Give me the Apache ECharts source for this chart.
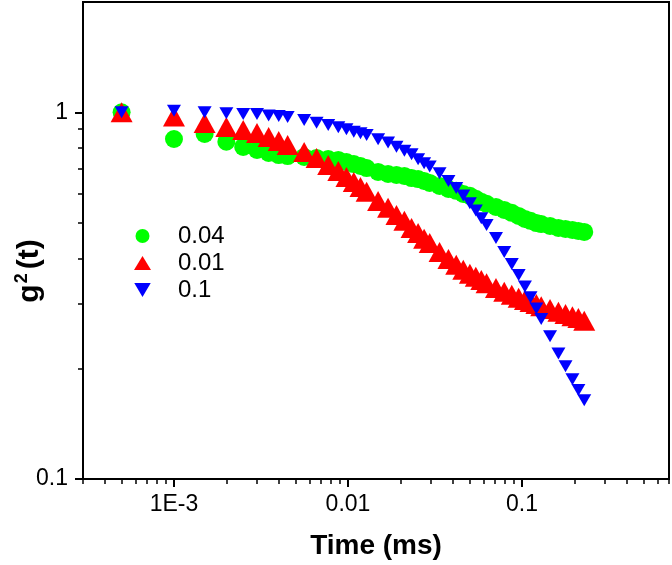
<!DOCTYPE html>
<html>
<head>
<meta charset="utf-8">
<script src="https://cdn.jsdelivr.net/npm/echarts@6/dist/echarts.min.js"></script>
<style>html,body{margin:0;padding:0;background:#fff;}#chart{width:672px;height:565px;}</style>
</head>
<body>
<div id="chart"></div>
<script>
// Lag times (ms)
var times = [0.0005, 0.001, 0.0015, 0.002, 0.0025, 0.003, 0.0035, 0.004, 0.0045,
  0.0056, 0.0066, 0.0077, 0.0088, 0.0098, 0.0108, 0.0118, 0.0128,
  0.0149, 0.0170, 0.0190, 0.0211, 0.0232, 0.0253, 0.0274, 0.0295,
  0.0336, 0.0378, 0.0419, 0.0460, 0.0502, 0.0543, 0.0584, 0.0626,
  0.0709, 0.0791, 0.0874, 0.0957, 0.104, 0.112, 0.121, 0.129,
  0.145, 0.162, 0.178, 0.195, 0.211, 0.228];
// g2(t) for each sample
var g004 = [1.0, 0.846, 0.873, 0.832, 0.805, 0.790, 0.775, 0.765, 0.760,
  0.756, 0.751, 0.746, 0.742, 0.732, 0.723, 0.714, 0.705,
  0.688, 0.679, 0.675, 0.671, 0.662, 0.658, 0.650, 0.642,
  0.630, 0.618, 0.611, 0.599, 0.592, 0.581, 0.570, 0.563,
  0.552, 0.542, 0.532, 0.522, 0.512, 0.506, 0.499, 0.496,
  0.490, 0.484, 0.481, 0.478, 0.475, 0.472];
var g001 = [1.0, 0.975, 0.936, 0.912, 0.895, 0.879, 0.857, 0.836, 0.815,
  0.780, 0.751, 0.719, 0.692, 0.666, 0.646, 0.626, 0.607,
  0.573, 0.549, 0.525, 0.506, 0.484, 0.469, 0.452, 0.440,
  0.416, 0.398, 0.384, 0.372, 0.363, 0.356, 0.349, 0.342,
  0.332, 0.324, 0.318, 0.312, 0.308, 0.304, 0.300, 0.296,
  0.291, 0.286, 0.282, 0.278, 0.275, 0.270];
var g01 = [1.0, 1.01, 1.0, 0.995, 0.99, 0.99, 0.98, 0.977, 0.972,
  0.953, 0.937, 0.924, 0.911, 0.899, 0.886, 0.877, 0.868,
  0.845, 0.828, 0.806, 0.786, 0.769, 0.745, 0.726, 0.712,
  0.682, 0.650, 0.622, 0.593, 0.565, 0.540, 0.514, 0.493,
  0.454, 0.416, 0.386, 0.360, 0.335, 0.313, 0.292, 0.273,
  0.245, 0.220, 0.203, 0.187, 0.175, 0.164];
var seriesNames = ['0.04', '0.01', '0.1'];
var xMajorTicks = [0.001, 0.01, 0.1];
var xMinorTicks = [0.0003, 0.0004, 0.0005, 0.0006, 0.0007, 0.0008, 0.0009,
  0.002, 0.003, 0.004, 0.005, 0.006, 0.007, 0.008, 0.009,
  0.02, 0.03, 0.04, 0.05, 0.06, 0.07, 0.08, 0.09,
  0.2, 0.3, 0.4, 0.5, 0.6, 0.7];
var yMajorTicks = [0.1, 1];
var yMinorTicks = [0.2, 0.3, 0.4, 0.5, 0.6, 0.7, 0.8, 0.9];

function zip(xs, ys) { return xs.map(function (x, i) { return [x, ys[i]]; }); }

var FONT = "'Liberation Sans', Arial, sans-serif";
var downTri = 'path://M0,0 L20,0 L10,17 Z';

var chart = echarts.init(document.getElementById('chart'), null, {renderer: 'canvas'});
var axisLineStyle = {color: '#000', width: 2};
chart.setOption({
  animation: false,
  backgroundColor: '#fff',
  grid: {left: 83, right: 3, top: 2, bottom: 86, show: true, borderColor: '#000', borderWidth: 2,
    backgroundColor: 'transparent', containLabel: false, outerBoundsMode: 'none'},
  graphic: [{
    type: 'text', x: 30, y: 271, rotation: Math.PI / 2, silent: true,
    style: {
      text: '{a|g}{b|2}{a|(t)}', align: 'center', verticalAlign: 'middle',
      rich: {
        a: {fontFamily: FONT, fontSize: 30, fontWeight: 'bold', fill: '#000', lineHeight: 34},
        b: {fontFamily: FONT, fontSize: 18, fontWeight: 'bold', fill: '#000', lineHeight: 34, verticalAlign: 'top', padding: [0, 4, 0, 1]}
      }
    }
  }],
  legend: {
    orient: 'vertical', left: 134, top: 223, padding: 0, itemWidth: 17, itemHeight: 14, itemGap: 1,
    selectedMode: false,
    textStyle: {fontFamily: FONT, fontSize: 24, color: '#000', lineHeight: 26, padding: [0, 0, 0, 22]},
    data: [
      {name: seriesNames[0], icon: 'circle'},
      {name: seriesNames[1], icon: 'triangle'},
      {name: seriesNames[2], icon: downTri}
    ]
  },
  xAxis: [{
    type: 'log', logBase: 10, min: 0.0003, max: 0.7,
    name: 'Time (ms)', nameLocation: 'middle', nameGap: 53,
    nameTextStyle: {fontFamily: FONT, fontSize: 28, fontWeight: 'bold', color: '#000'},
    axisLine: {show: true, lineStyle: axisLineStyle},
    axisTick: {show: true, inside: false, length: 8, lineStyle: {color: '#000', width: 2}, customValues: xMajorTicks},
    axisLabel: {show: true, margin: 14, fontFamily: FONT, fontSize: 23, color: '#000', customValues: xMajorTicks,
      formatter: function (v) { return Math.abs(v - 0.001) < 1e-9 ? '1E-3' : String(v); }},
    splitLine: {show: false}, minorTick: {show: false}
  }, {
    type: 'log', logBase: 10, min: 0.0003, max: 0.7, position: 'bottom',
    axisLine: {show: false},
    axisTick: {show: true, inside: false, length: 5, lineStyle: {color: '#000', width: 1.5}, customValues: xMinorTicks},
    axisLabel: {show: false}, splitLine: {show: false}
  }],
  yAxis: [{
    type: 'log', logBase: 10, min: 0.1, max: 2,
    axisLine: {show: true, lineStyle: axisLineStyle},
    axisTick: {show: true, inside: false, length: 8, lineStyle: {color: '#000', width: 2}, customValues: yMajorTicks},
    axisLabel: {show: true, margin: 15, fontFamily: FONT, fontSize: 23, color: '#000', customValues: yMajorTicks,
      formatter: function (v) { return String(v); }},
    splitLine: {show: false}, minorTick: {show: false}
  }, {
    type: 'log', logBase: 10, min: 0.1, max: 2, position: 'left',
    axisLine: {show: false},
    axisTick: {show: true, inside: false, length: 5, lineStyle: {color: '#000', width: 1.5}, customValues: yMinorTicks},
    axisLabel: {show: false}, splitLine: {show: false}
  }],
  series: [{
    name: seriesNames[0], type: 'scatter', xAxisIndex: 0, yAxisIndex: 0,
    symbol: 'circle', symbolSize: 18,
    itemStyle: {color: '#00ff00', opacity: 1},
    emphasis: {disabled: true},
    data: zip(times, g004)
  }, {
    name: seriesNames[1], type: 'scatter', xAxisIndex: 0, yAxisIndex: 0,
    symbol: 'triangle', symbolSize: [22, 20],
    itemStyle: {color: '#ff0000', opacity: 1},
    emphasis: {disabled: true},
    data: zip(times, g001)
  }, {
    name: seriesNames[2], type: 'scatter', xAxisIndex: 0, yAxisIndex: 0,
    symbol: downTri, symbolSize: [14, 12], symbolKeepAspect: false,
    itemStyle: {color: '#0000ff', opacity: 1},
    emphasis: {disabled: true},
    data: zip(times, g01)
  }]
});
</script>
</body>
</html>
